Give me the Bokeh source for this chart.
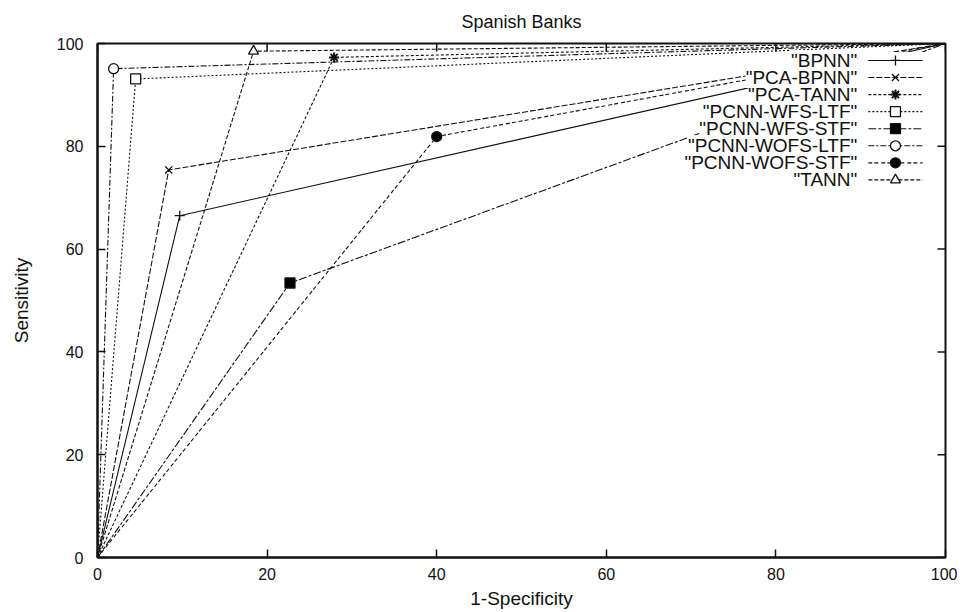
from bokeh.plotting import figure
from bokeh.models import FixedTicker
from bokeh.embed import file_html
from bokeh.resources import INLINE
from bokeh.core.properties import value

# ---- data ----
title_text = "Spanish Banks"
x_label = "1-Specificity"
y_label = "Sensitivity"
series = ["BPNN", "PCA-BPNN", "PCA-TANN", "PCNN-WFS-LTF", "PCNN-WFS-STF",
          "PCNN-WOFS-LTF", "PCNN-WOFS-STF", "TANN"]
one_minus_spec = [9.7, 8.4, 27.9, 4.5, 22.7, 1.9, 40.0, 18.4]
sensitivity = [66.5, 75.4, 97.3, 93.1, 53.4, 95.1, 81.9, 98.5]
ticks = [0, 20, 40, 60, 80, 100]

# ---- styles ----
markers = ["cross", "x", "asterisk", "square", "square", "circle", "circle", "triangle"]
fills = ["white", "white", "white", "white", "black", "white", "black", "white"]
dashes = ["solid", "6 2", "3 2", "2 2", "8 2 3 2", "6 2 2 2", "4 2 4 3", "4 2"]
FONT = "Liberation Sans"
INK = "#111111"

p = figure(width=957, height=611, x_range=(0, 100), y_range=(0, 100),
           output_backend="svg", toolbar_location=None,
           min_border_left=97, min_border_right=12, min_border_top=43,
           min_border_bottom=54, title=title_text)
p.title.align = "center"
p.title.vertical_align = "top"
p.title.text_font = FONT
p.title.text_font_size = "18px"
p.title.text_font_style = "normal"
p.title.text_color = INK
p.title.standoff = 19

p.grid.visible = False
p.outline_line_color = INK
p.outline_line_width = 2
p.background_fill_color = "white"
p.border_fill_color = "white"

for ax in (p.xaxis[0], p.yaxis[0]):
    ax.ticker = FixedTicker(ticks=ticks)
    ax.major_tick_in = 8
    ax.major_tick_out = 0
    ax.major_tick_line_color = INK
    ax.major_tick_line_width = 1.5
    ax.minor_tick_line_color = None
    ax.axis_line_color = INK
    ax.axis_line_width = 2
    ax.major_label_text_font = FONT
    ax.major_label_text_font_size = "16px"
    ax.major_label_text_color = INK
    ax.axis_label_text_font = FONT
    ax.axis_label_text_font_size = "19px"
    ax.axis_label_text_font_style = "normal"
    ax.axis_label_text_color = INK

p.xaxis[0].axis_label = x_label
p.xaxis[0].major_label_standoff = 10
p.xaxis[0].axis_label_standoff = 5
p.yaxis[0].axis_label = y_label
p.yaxis[0].major_label_standoff = 14
p.yaxis[0].axis_label_standoff = 22

# mirrored inward ticks on the top and right edges (gnuplot style)
tick_len_x = 8 * 100 / 848.0   # 8 px expressed in x data units
tick_len_y = 8 * 100 / 514.0   # 8 px expressed in y data units
p.segment(x0=ticks, x1=ticks, y0=[100] * len(ticks), y1=[100 - tick_len_y] * len(ticks),
          line_color=INK, line_width=1.5)
p.segment(x0=[100] * len(ticks), x1=[100 - tick_len_x] * len(ticks), y0=ticks, y1=ticks,
          line_color=INK, line_width=1.5)

# ---- curves ----
for i, name in enumerate(series):
    xs = [0, one_minus_spec[i], 100]
    ys = [0, sensitivity[i], 100]
    p.line(xs, ys, line_color=INK, line_width=1.1, line_dash=dashes[i])
    lw = 2 if markers[i] == "asterisk" else 1.3
    p.scatter([one_minus_spec[i]], [sensitivity[i]], marker=markers[i], size=10,
              line_color=INK, fill_color=fills[i], line_width=lw)

# ---- key (gnuplot style: text right-aligned, sample on the right, opaque) ----
key_text_x = 89.6
key_top = 96.7
key_step = 3.32
sample_x0, sample_x1, sample_mid = 90.9, 97.3, 94.1
rows = [key_top - key_step * i for i in range(len(series))]

p.quad(left=[key_text_x], right=[98.3], top=[rows[0] + key_step / 2],
       bottom=[rows[-1] - key_step / 2], fill_color="white", line_color=None)
p.text(x=[key_text_x] * len(series), y=rows, text=['"%s"' % s for s in series],
       text_align="right", text_baseline="middle", text_font=value(FONT),
       text_font_size="19px", text_line_height=0.95, text_color=INK,
       background_fill_color="white")
for i, name in enumerate(series):
    p.line([sample_x0, sample_x1], [rows[i], rows[i]], line_color=INK, line_width=1.1,
           line_dash=dashes[i])
    lw = 2 if markers[i] == "asterisk" else 1.3
    p.scatter([sample_mid], [rows[i]], marker=markers[i], size=10, line_color=INK,
              fill_color=fills[i], line_width=lw)

open("out.html", "w").write(file_html(p, INLINE))
